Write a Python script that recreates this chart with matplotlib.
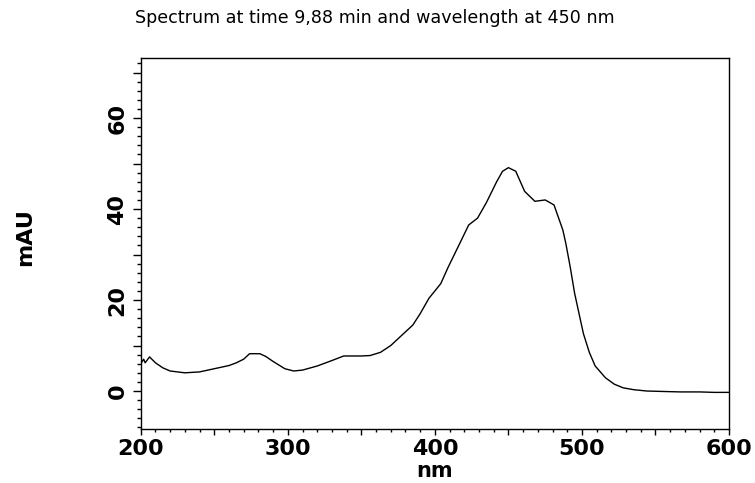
import matplotlib
matplotlib.use("Agg")
import matplotlib.pyplot as plt
from matplotlib.ticker import MultipleLocator, FuncFormatter

# spectrum
wavelength = [200, 202, 203, 206, 210, 215, 220, 230, 240, 250, 260, 265, 270,
              274, 281, 285, 290, 298, 304, 310, 320, 330, 338, 350, 356, 363,
              370, 375, 380, 385, 390, 396, 404, 409, 417, 423, 429, 435, 442,
              446, 450, 455, 461, 468, 475, 481, 487, 489, 492, 495, 501, 505,
              509, 516, 522, 528, 535, 544, 555, 567, 580, 590, 600]
absorbance = [6.0, 7.0, 6.2, 7.5, 6.2, 5.1, 4.4, 4.0, 4.2, 4.9, 5.6, 6.2, 7.0,
              8.2, 8.2, 7.6, 6.5, 4.9, 4.4, 4.6, 5.5, 6.7, 7.7, 7.7, 7.8, 8.5,
              10.0, 11.5, 13.0, 14.5, 17.0, 20.4, 23.6, 27.2, 32.5, 36.5, 38.0,
              41.4, 46.0, 48.3, 49.1, 48.3, 43.9, 41.7, 42.0, 40.9, 35.4, 32.5,
              27.3, 21.5, 12.6, 8.5, 5.5, 2.9, 1.5, 0.7, 0.3, 0.0, -0.1, -0.2,
              -0.2, -0.3, -0.3]

title = "Spectrum at time 9,88 min and wavelength at 450 nm"

fig = plt.figure(figsize=(7.55, 4.83), dpi=100)
ax = fig.add_axes([0.1864, 0.1118, 0.7792, 0.7681])
ax.plot(wavelength, absorbance, color="black", lw=1.0)

ax.set_xlim(200, 600)
ax.set_ylim(-8.35, 73.2)

ax.xaxis.set_major_locator(MultipleLocator(50))
ax.xaxis.set_minor_locator(MultipleLocator(10))
ax.yaxis.set_major_locator(MultipleLocator(10))
ax.yaxis.set_minor_locator(MultipleLocator(2))
ax.xaxis.set_major_formatter(FuncFormatter(lambda v, p: "%d" % v if v % 100 == 0 else ""))
ax.yaxis.set_major_formatter(FuncFormatter(lambda v, p: "%d" % v if v % 20 == 0 else ""))

ax.tick_params(axis="x", which="major", length=4, width=1, direction="out", pad=3)
ax.tick_params(axis="x", which="minor", length=2.5, width=1, direction="out")
ax.tick_params(axis="y", which="major", length=5.5, width=1, direction="out", pad=4)
ax.tick_params(axis="y", which="minor", length=3, width=1, direction="out")

for lab in ax.get_xticklabels() + ax.get_yticklabels():
    lab.set_fontfamily("DejaVu Sans")
    lab.set_fontweight("bold")
    lab.set_fontsize(16)
for lab in ax.get_yticklabels():
    lab.set_rotation(90)
    lab.set_va("center")

for s in ax.spines.values():
    s.set_linewidth(1.0)

fig.text(0.497, 0.962, title, ha="center", va="center", fontsize=12.6,
         family="DejaVu Sans")
fig.text(0.033, 0.51, "mAU", ha="center", va="center", rotation=90,
         fontsize=16, fontweight="bold", family="DejaVu Sans")
fig.text(0.575, 0.004, "nm", ha="center", va="bottom",
         fontsize=15, fontweight="bold", family="DejaVu Sans")

fig.savefig("out.png", dpi=100)
